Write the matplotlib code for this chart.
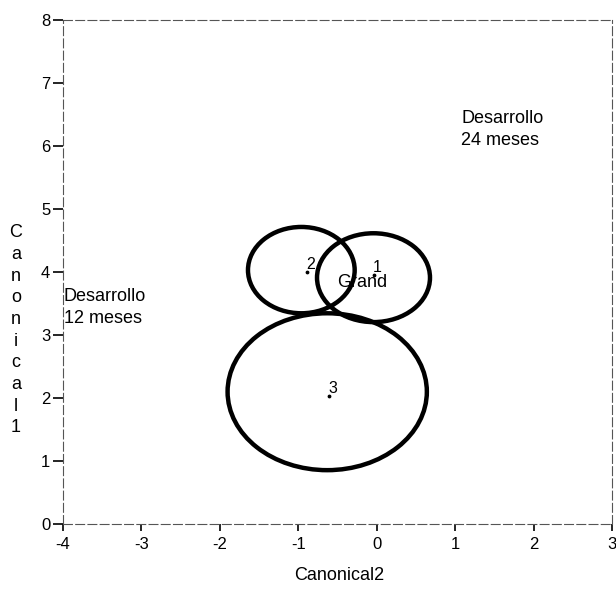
import numpy as np
import matplotlib
matplotlib.use('Agg')
import matplotlib.pyplot as plt
from matplotlib.patches import Ellipse

plt.rcParams['font.family'] = ['Liberation Sans', 'DejaVu Sans']
plt.rcParams['axes.unicode_minus'] = False

# group means on canonical axes (Canonical2, Canonical1)
groups = ["1", "2", "3"]
means_x = [-0.04, -0.89, -0.61]
means_y = [3.96, 4.00, 2.03]
# confidence circle sizes (width, height in data units)
widths = [1.44, 1.36, 2.54]
heights = [1.41, 1.37, 2.49]
centers_x = [-0.04, -0.96, -0.63]
centers_y = [3.91, 4.03, 2.10]
grand = (-0.19, 3.83)

xticks = [-4, -3, -2, -1, 0, 1, 2, 3]
yticks = [0, 1, 2, 3, 4, 5, 6, 7, 8]

fig = plt.figure(figsize=(6.16, 5.93), dpi=100)
ax = fig.add_axes([0.102, 0.1163, 0.8915, 0.85])

for cx, cy, w, h in zip(centers_x, centers_y, widths, heights):
    ax.add_patch(Ellipse((cx, cy), w, h, fill=False, ec='black', lw=3.2))

ax.scatter(means_x, means_y, s=3, color='black', zorder=3)
for g, x, y in zip(groups, means_x, means_y):
    ax.text(x - 0.01, y, g, fontsize=11.5, ha='left', va='bottom')
ax.text(grand[0], grand[1], "Grand", fontsize=13, ha='center', va='center')

ax.text(1.08, 6.26, "Desarrollo\n24 meses", fontsize=13, ha='left', va='center',
        linespacing=1.35)
ax.text(-3.99, 3.44, "Desarrollo\n12 meses", fontsize=13, ha='left', va='center',
        linespacing=1.35)

ax.set_xlim(-4, 3)
ax.set_ylim(0, 8)
ax.set_xticks(xticks)
ax.set_yticks(yticks)
ax.tick_params(labelsize=12, length=7, width=1.2, direction='out', pad=2)
ax.tick_params(axis='x', length=5, pad=4)
for s in ax.spines.values():
    s.set_color('#555555')
    s.set_linewidth(0.8)
    s.set_linestyle((0, (8, 3)))

ax.set_xlabel("Canonical2", fontsize=13)
ax.xaxis.set_label_coords(0.503, -0.085)
fig.text(0.026, 0.443, "\n".join("Canonical1"), fontsize=13, ha='center',
         va='center', linespacing=1.36)

plt.savefig("out.png", dpi=100)
plt.close()
